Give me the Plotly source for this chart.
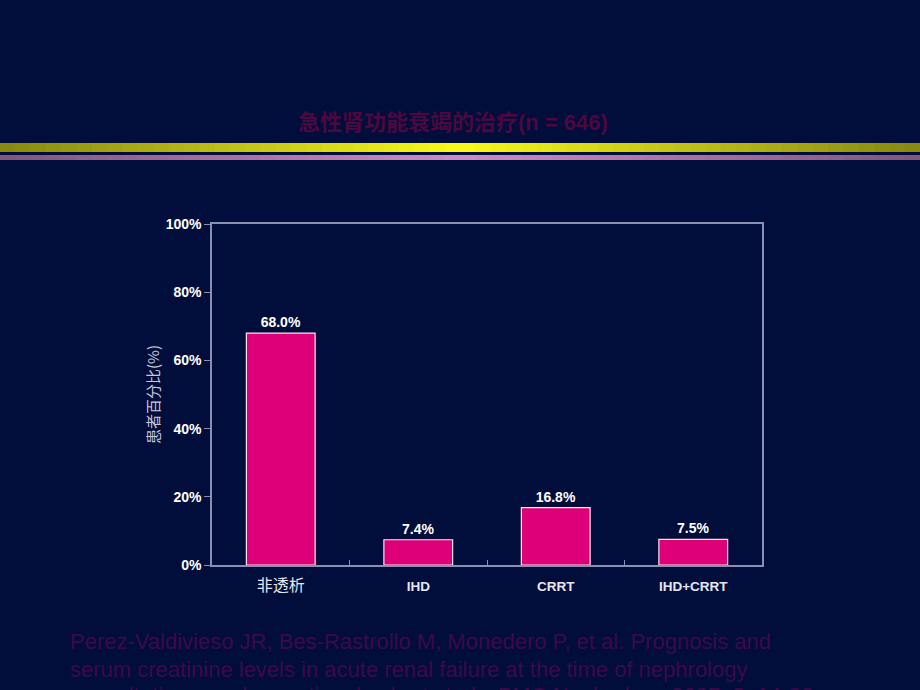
import plotly.graph_objects as go

categories = ["非透析", "IHD", "CRRT", "IHD+CRRT"]
values = [68.0, 7.4, 16.8, 7.5]
y_ticks = [0, 20, 40, 60, 80, 100]
y_tick_labels = ["0%", "20%", "40%", "60%", "80%", "100%"]
cat_labels = ['<span style="font-size:16px">非透析</span>', "<b>IHD</b>", "<b>CRRT</b>", "<b>IHD+CRRT</b>"]

BG = "#010d3a"
W, H = 920, 690
ml, mr, mt, mb = 212, 158, 224, 125
pw, ph = W - ml - mr, H - mt - mb


def px_x(x):
    return (x - ml) / pw


def px_y(y):
    return (H - mb - y) / ph


def lerp(c1, c2, t):
    return tuple(int(round(a + (b - a) * t)) for a, b in zip(c1, c2))


fig = go.Figure()
fig.add_trace(go.Bar(
    x=categories, y=values,
    marker=dict(color="#de0079", line=dict(color="#f4e8f0", width=1.2)),
    width=0.5,
    text=[f"<b>{v:.1f}%</b>" for v in values],
    textposition="outside",
    textfont=dict(family="Liberation Sans, Arial", size=14, color="#ffffff"),
    cliponaxis=False,
    hoverinfo="skip",
))

# decorative gradient bands
shapes = []
n = 60
for i in range(n):
    x0 = W * i / n
    x1 = W * (i + 1) / n + 1
    t = 1 - abs((x0 + x1) / 2 / W - 0.5) * 2
    cy = lerp((135, 135, 15), (250, 250, 25), t)
    cp = lerp((130, 85, 125), (205, 140, 195), t)
    shapes.append(dict(type="rect", xref="paper", yref="paper",
                       x0=px_x(x0), x1=px_x(x1), y0=px_y(152), y1=px_y(143),
                       line=dict(width=0), fillcolor="rgb(%d,%d,%d)" % cy, layer="below"))
    shapes.append(dict(type="rect", xref="paper", yref="paper",
                       x0=px_x(x0), x1=px_x(x1), y0=px_y(160), y1=px_y(155),
                       line=dict(width=0), fillcolor="rgb(%d,%d,%d)" % cp, layer="below"))

foot_font = dict(family="Liberation Sans, Arial", size=22, color="#3c0a4a")
annotations = [
    dict(text="<b>急性肾功能衰竭的治疗(n = 646)</b>", xref="paper", yref="paper",
         x=px_x(453), y=px_y(122), xanchor="center", yanchor="middle", showarrow=False,
         font=dict(family="Liberation Sans, Noto Sans CJK SC", size=22, color="#4c0840")),
    dict(text="患者百分比(%)", xref="paper", yref="paper", textangle=-90,
         x=px_x(152), y=px_y(395), xanchor="center", yanchor="middle", showarrow=False,
         font=dict(family="Noto Sans CJK SC", size=15, color="#c8c8d8")),
    dict(text="Perez-Valdivieso JR, Bes-Rastrollo M, Monedero P, et al. Prognosis and",
         xref="paper", yref="paper", x=px_x(68), y=px_y(641), xanchor="left", yanchor="middle",
         showarrow=False, font=foot_font),
    dict(text="serum creatinine levels in acute renal failure at the time of nephrology",
         xref="paper", yref="paper", x=px_x(68), y=px_y(669), xanchor="left", yanchor="middle",
         showarrow=False, font=foot_font),
    dict(text="consultation: an observational cohort study. BMC Nephrology 2007; 8: 14-23",
         xref="paper", yref="paper", x=px_x(68), y=px_y(695), xanchor="left", yanchor="middle",
         showarrow=False, font=foot_font),
]

fig.update_layout(
    width=W, height=H,
    margin=dict(l=ml, r=mr, t=mt, b=mb, pad=0),
    paper_bgcolor=BG, plot_bgcolor=BG,
    showlegend=False,
    shapes=shapes,
    annotations=annotations,
    xaxis=dict(
        tickmode="array", tickvals=categories, ticktext=cat_labels,
        tickson="boundaries", ticks="inside", ticklen=5, tickcolor="#8a90b4",
        showline=True, linecolor="#8a90b4", linewidth=1.5, mirror=True,
        showgrid=False, zeroline=False, ticklabelstandoff=8,
        tickfont=dict(family="Liberation Sans, Noto Sans CJK SC", size=13.5, color="#e6e6ee"),
    ),
    yaxis=dict(
        range=[0, 100], tickmode="array", tickvals=y_ticks,
        ticktext=["<b>%s</b>" % t for t in y_tick_labels],
        ticks="outside", ticklen=6, tickcolor="#8a90b4",
        showline=True, linecolor="#8a90b4", linewidth=1.5, mirror=True,
        showgrid=False, zeroline=False,
        tickfont=dict(family="Liberation Sans, Arial", size=14, color="#ffffff"),
    ),
)

fig.write_html("out.html")
